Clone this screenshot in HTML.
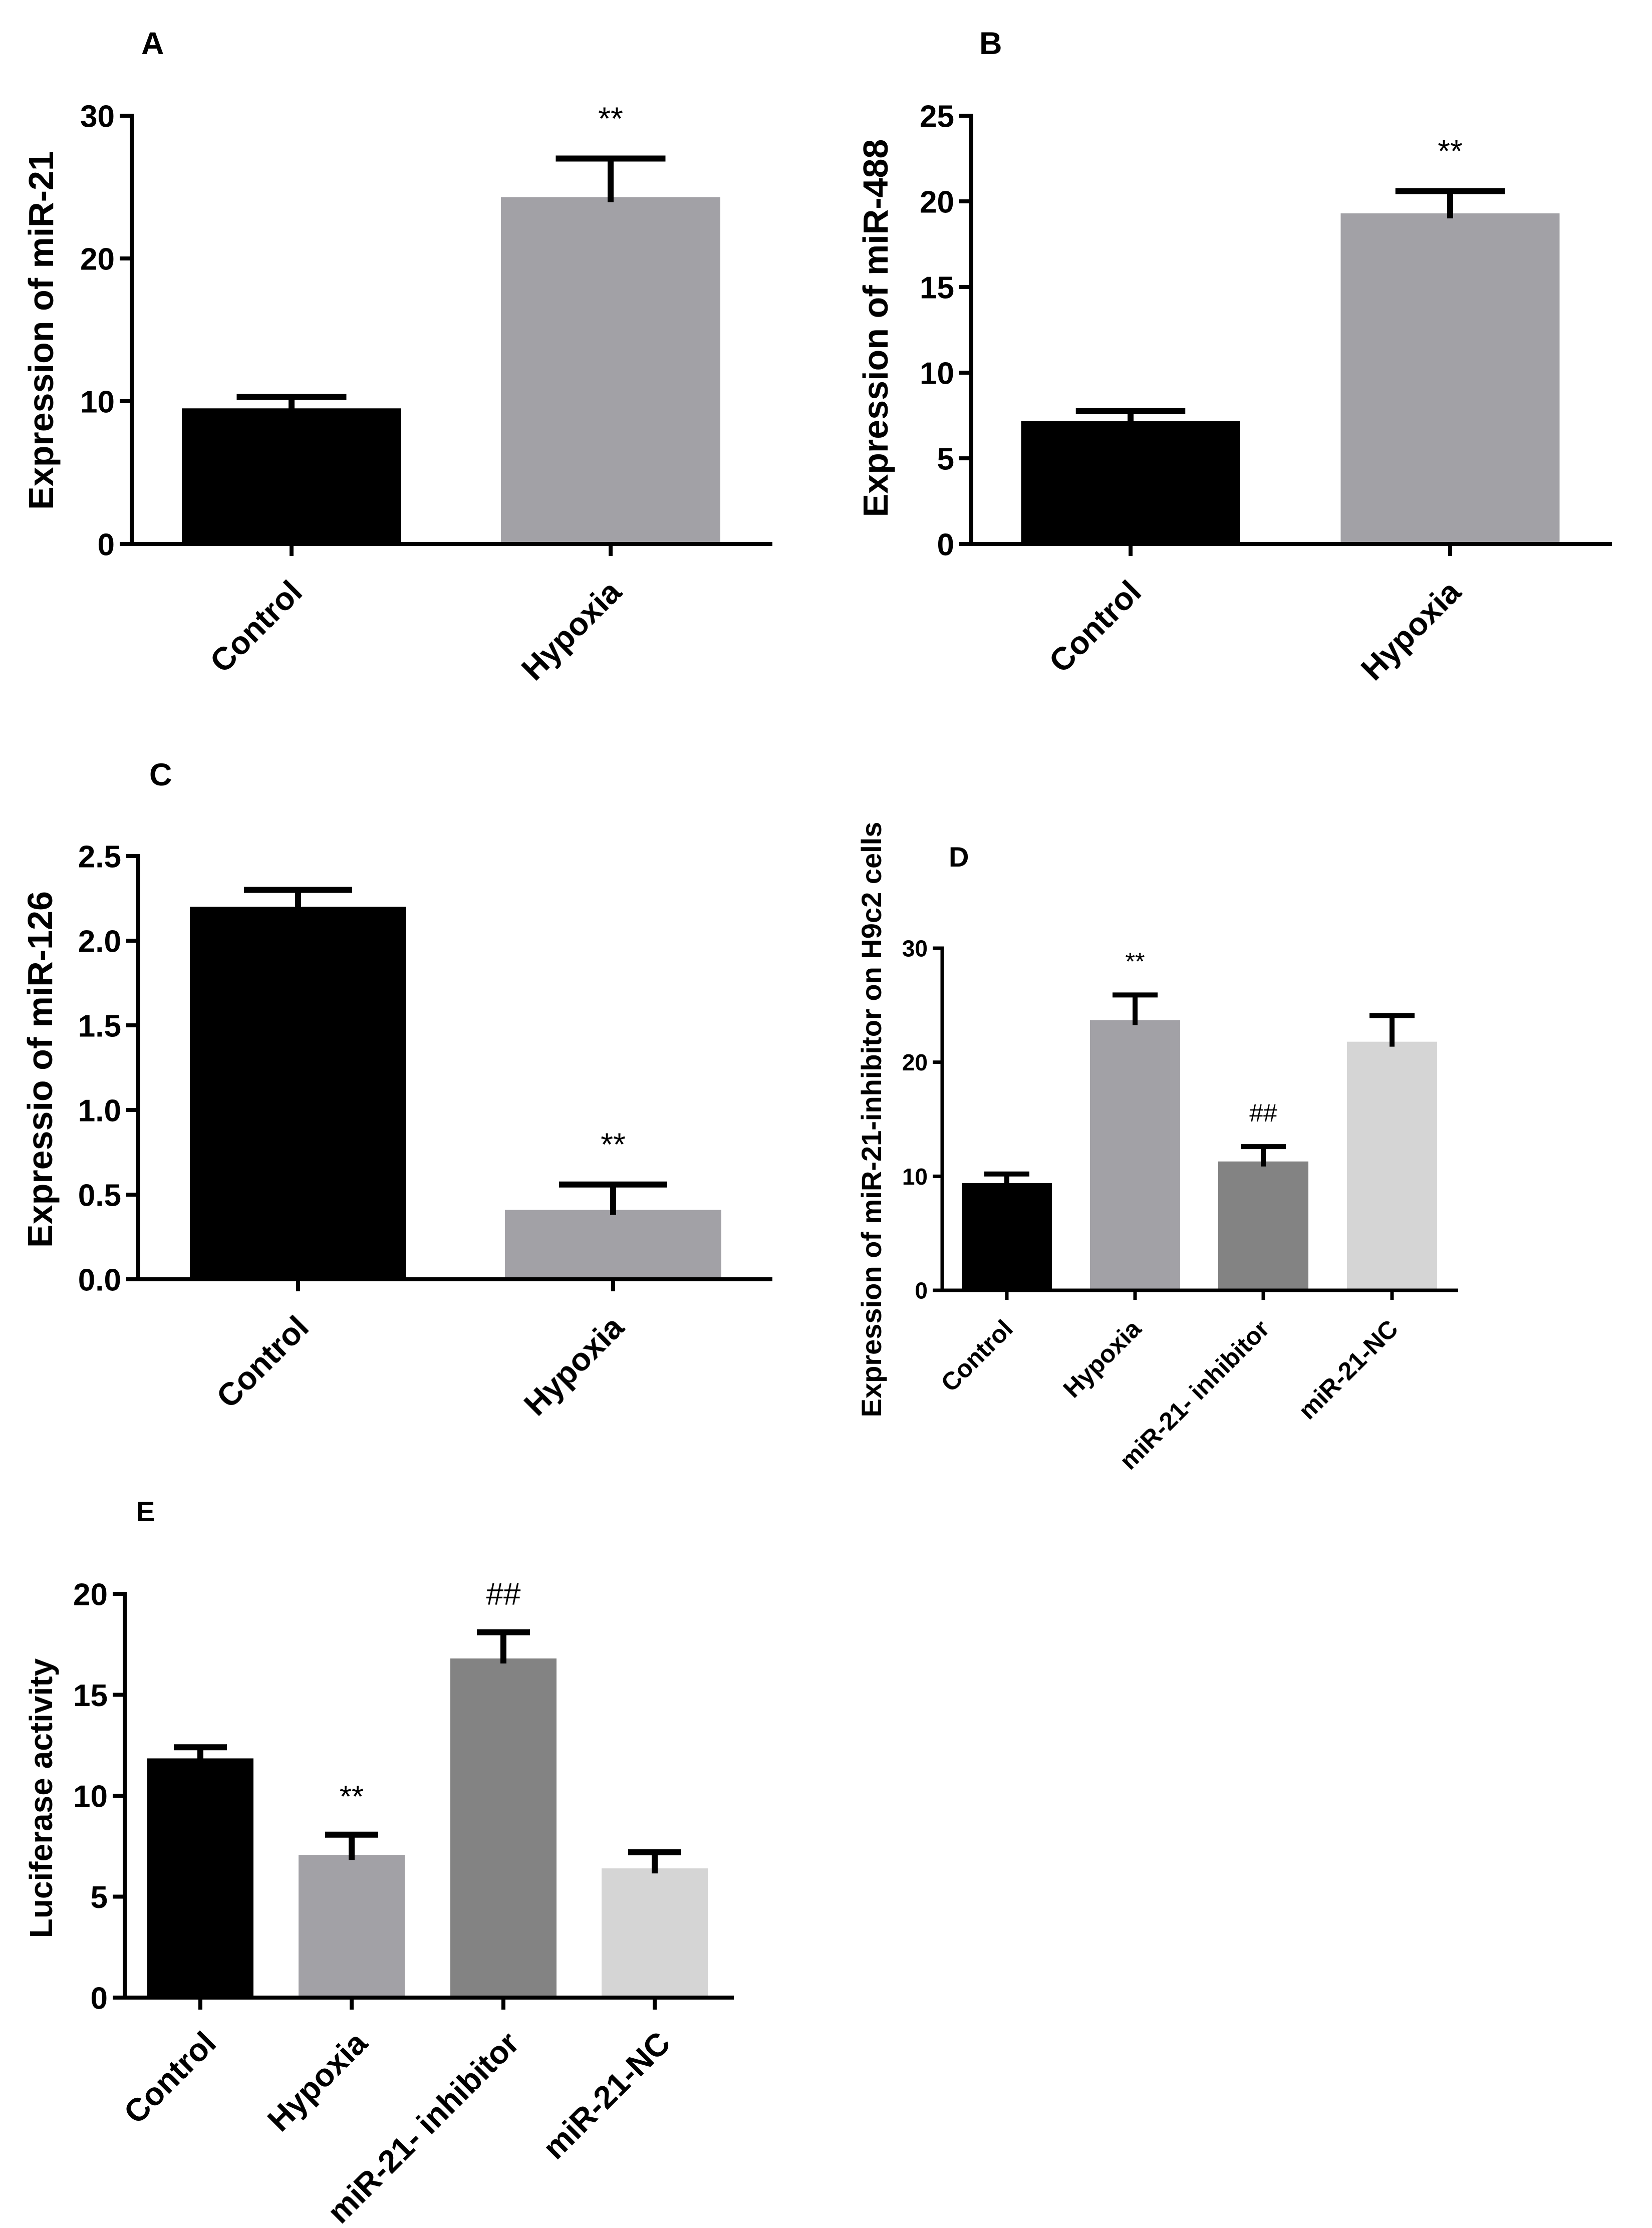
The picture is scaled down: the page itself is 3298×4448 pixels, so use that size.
<!DOCTYPE html>
<html><head><meta charset="utf-8"><style>
html,body{margin:0;padding:0;background:#fff;}
svg{display:block;font-family:"Liberation Sans",Arial,sans-serif;}
</style></head><body>
<svg id="fig" width="3298" height="4448" viewBox="0 0 3298 4448" xmlns="http://www.w3.org/2000/svg">
<rect x="0" y="0" width="3298" height="4448" fill="#fff"/>
</svg>
<script>
// Panel A
const aCats = ["Control","Hypoxia"];
const aVals = [9.5, 24.3];
const aErrs = [10.3, 27.0];
const aTicks = [0,10,20,30];
// Panel B
const bCats = ["Control","Hypoxia"];
const bVals = [7.17, 19.3];
const bErrs = [7.75, 20.6];
const bTicks = [0,5,10,15,20,25];
// Panel C
const cCats = ["Control","Hypoxia"];
const cVals = [2.20, 0.41];
const cErrs = [2.30, 0.56];
const cTicks = ["0.0","0.5","1.0","1.5","2.0","2.5"];
// Panel D
const dCats = ["Control","Hypoxia","miR-21- inhibitor","miR-21-NC"];
const dVals = [9.4, 23.7, 11.3, 21.8];
const dErrs = [10.2, 25.9, 12.6, 24.1];
const dTicks = [0,10,20,30];
// Panel E
const eCats = ["Control","Hypoxia","miR-21- inhibitor","miR-21-NC"];
const eVals = [11.85, 7.07, 16.8, 6.4];
const eErrs = [12.4, 8.07, 18.1, 7.2];
const eTicks = [0,5,10,15,20];

const NS = "http://www.w3.org/2000/svg";
const svg = document.getElementById("fig");
function mk(tag, attrs, parent){
  const e = document.createElementNS(NS, tag);
  for (const k in attrs) e.setAttribute(k, attrs[k]);
  (parent||svg).appendChild(e);
  return e;
}

function panel(p){
  const g = mk("g", {});
  
  
  const yScale = v => p.zeroY - (v - 0) / p.yMax * (p.zeroY - p.topY);
  const L = mk("text", {x:p.letterX, y:p.letterY, "font-size":p.letterSize, "font-weight":"bold"}, g);
  L.textContent = p.letter;
  
  
  const T = mk("text", {x:0, y:0, "font-size":p.titleSize, "font-weight":"bold", "text-anchor":"middle",
    transform:`translate(${p.titleX},${p.titleY}) rotate(-90)`}, g);
  T.textContent = p.title;
  
  
  p.cats.forEach((c,i)=>{
    const cx = p.catX[i];
    const y = yScale(p.vals[i]);
    const r = mk("rect", {x:cx - p.barW/2, y:y, width:p.barW, height:p.zeroY - y, fill:p.colors[i]}, g);
    
    
    const ey = yScale(p.errs[i]);
    const eg = mk("g", {stroke:"#000", "stroke-width":p.errW, fill:"none"}, g);
    
    
    mk("line", {x1:cx, y1:y + 10, x2:cx, y2:ey}, eg);
    mk("line", {x1:cx - p.barW/4, y1:ey, x2:cx + p.barW/4, y2:ey}, eg);
    const tk = mk("line", {x1:cx, y1:p.zeroY, x2:cx, y2:p.zeroY + p.tickLen, stroke:"#000", "stroke-width":p.axisW}, g);
    
    
    const lx = cx + p.lblDx, ly = p.zeroY + p.lblDy;
    const xl = mk("text", {x:0, y:0, "font-size":p.xLblSize, "font-weight":"bold", "text-anchor":"end",
      transform:`translate(${lx},${ly}) rotate(-45)`}, g);
    xl.textContent = c;
    
    
    if (p.marks[i]) {
      const m = mk("text", {x:cx, y:yScale(p.errs[i]) - p.markGap, "font-size":p.markSize, "text-anchor":"middle"}, g);
      m.textContent = p.marks[i];
      
      
    }
  });
  const ya = mk("line", {x1:p.axisX, y1:p.topY - p.axisW/2, x2:p.axisX, y2:p.zeroY + p.axisW/2, stroke:"#000", "stroke-width":p.axisW}, g);
  
  
  const xa = mk("line", {x1:p.axisX - p.tickLen, y1:p.zeroY, x2:p.axisEnd, y2:p.zeroY, stroke:"#000", "stroke-width":p.axisW}, g);
  
  
  p.ticks.forEach((t,i)=>{
    const v = parseFloat(t);
    const y = yScale(v);
    const tl = mk("line", {x1:p.axisX - p.tickLen, y1:y, x2:p.axisX, y2:y, stroke:"#000", "stroke-width":p.axisW}, g);
    
    
    const tx = mk("text", {x:p.axisX - p.tickLen - p.tickGap, y:y + p.tickSize*0.36, "font-size":p.tickSize, "font-weight":"bold", "text-anchor":"end"}, g);
    tx.textContent = t;
    
    
  });
}

panel({id:"a", letter:"A", letterX:282, letterY:108, letterSize:63,
  title:"Expression of miR-21", titleX:106, titleY:660, titleSize:70,
  cats:aCats, vals:aVals, errs:aErrs, ticks:aTicks, yMax:30,
  topY:231, zeroY:1086, axisX:263, axisEnd:1542, catX:[582,1219], barW:438,
  colors:["#000","#a2a1a6"], marks:["","**"], markSize:64, markGap:58,
  axisW:8, errW:12, tickLen:24, tickGap:10, tickSize:62, xLblSize:64, lblDx:25, lblDy:100});

panel({id:"b", letter:"B", letterX:1955, letterY:108, letterSize:63,
  title:"Expression of miR-488", titleX:1772, titleY:655, titleSize:70,
  cats:bCats, vals:bVals, errs:bErrs, ticks:bTicks, yMax:25,
  topY:231, zeroY:1086, axisX:1939, axisEnd:3218, catX:[2257,2895], barW:437,
  colors:["#000","#a2a1a6"], marks:["","**"], markSize:64, markGap:58,
  axisW:8, errW:12, tickLen:24, tickGap:10, tickSize:62, xLblSize:64, lblDx:25, lblDy:100});

panel({id:"c", letter:"C", letterX:298, letterY:1568, letterSize:63,
  title:"Expressio of miR-126", titleX:104, titleY:2135, titleSize:70,
  cats:cCats, vals:cVals, errs:cErrs, ticks:cTicks, yMax:2.5,
  topY:1709, zeroY:2554, axisX:276, axisEnd:1542, catX:[595,1224], barW:432,
  colors:["#000","#a2a1a6"], marks:["","**"], markSize:64, markGap:58,
  axisW:8, errW:12, tickLen:24, tickGap:10, tickSize:62, xLblSize:64, lblDx:25, lblDy:100});

panel({id:"d", letter:"D", letterX:1894, letterY:1730, letterSize:56,
  title:"Expression of miR-21-inhibitor on H9c2 cells", titleX:1759, titleY:2235, titleSize:56,
  cats:dCats, vals:dVals, errs:dErrs, ticks:dTicks, yMax:30,
  topY:1893, zeroY:2576, axisX:1881, axisEnd:2911, catX:[2010,2266,2522,2779], barW:180,
  colors:["#000","#a2a1a6","#838383","#d5d5d5"], marks:["","**","##",""], markSize:50, markGap:50,
  axisW:7, errW:10, tickLen:19, tickGap:10, tickSize:46, xLblSize:50, lblDx:15, lblDy:80});

panel({id:"e", letter:"E", letterX:272, letterY:3037, letterSize:56,
  title:"Luciferase activity", titleX:104, titleY:3590, titleSize:64,
  cats:eCats, vals:eVals, errs:eErrs, ticks:eTicks, yMax:20,
  topY:3182, zeroY:3988, axisX:249, axisEnd:1465, catX:[400,702,1005,1307], barW:212,
  colors:["#000","#a2a1a6","#838383","#d5d5d5"], marks:["","**","##",""], markSize:62, markGap:55,
  axisW:8, errW:12, tickLen:24, tickGap:10, tickSize:62, xLblSize:64, lblDx:35, lblDy:95});
</script>
</body></html>
